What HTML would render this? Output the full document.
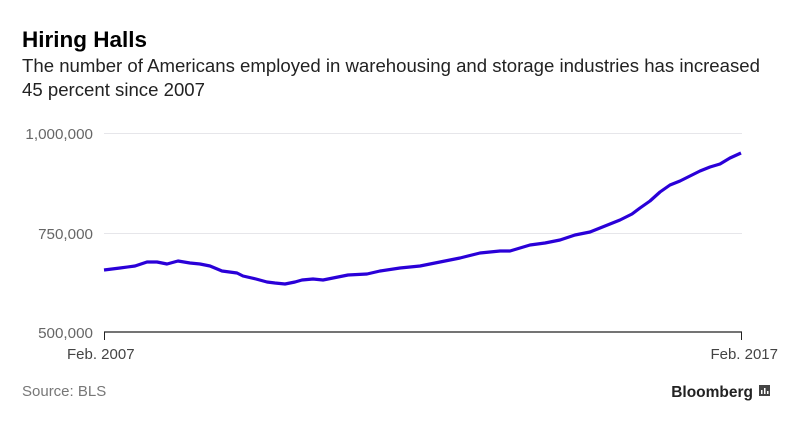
<!DOCTYPE html>
<html><head><style>
body{margin:0;background:#fff;width:800px;height:423px;overflow:hidden;font-family:"Liberation Sans",Arial,sans-serif}
</style></head><body>
<svg width="800" height="423" xmlns="http://www.w3.org/2000/svg" font-family="Liberation Sans, Arial, sans-serif">
<text x="22" y="47" font-size="22.5" font-weight="bold" fill="#000">Hiring Halls</text>
<text x="22" y="72" font-size="18.6" fill="#222">The number of Americans employed in warehousing and storage industries has increased</text>
<text x="22" y="96" font-size="18.6" fill="#222">45 percent since 2007</text>
<line x1="104" y1="133.5" x2="742" y2="133.5" stroke="#e6e6ea" stroke-width="1"/>
<line x1="104" y1="233.5" x2="742" y2="233.5" stroke="#e6e6ea" stroke-width="1"/>
<text x="93" y="139" font-size="15.2" fill="#666" text-anchor="end">1,000,000</text>
<text x="93" y="239" font-size="15.2" fill="#666" text-anchor="end">750,000</text>
<text x="93" y="338" font-size="15.2" fill="#666" text-anchor="end">500,000</text>
<line x1="104" y1="332" x2="742" y2="332" stroke="#222" stroke-width="1.3"/>
<line x1="104.5" y1="332" x2="104.5" y2="340" stroke="#222" stroke-width="1"/>
<line x1="741.5" y1="332" x2="741.5" y2="340" stroke="#222" stroke-width="1"/>
<text x="67" y="359" font-size="15" fill="#444">Feb. 2007</text>
<text x="778" y="359" font-size="15" fill="#444" text-anchor="end">Feb. 2017</text>
<polyline fill="none" stroke="#2a00d8" stroke-width="3.2" stroke-linejoin="round" points="104,270 120,268 135,266 147,262 157,262 167,264 178,261 190,263 200,264 210,266 222,271 237,273 243,276 256,279 267,282 275,283 285,284 295,282 302,280 313,279 323,280 348,275 367,274 380,271 400,268 420,266 440,262 460,258 480,253 500,251 510,251 520,248 530,245 545,243 560,240 575,235 590,232 605,226 620,220 632,214 640,208 650,201 660,192 670,185 680,181 690,176 700,171 710,167 720,164 730,158 741,153"/>
<text x="22" y="396" font-size="15" fill="#777">Source: BLS</text>
<text x="753" y="397" font-size="15.5" font-weight="bold" fill="#222" text-anchor="end">Bloomberg</text>
<rect x="759" y="385" width="11" height="11" fill="#444"/>
<rect x="761" y="390" width="1.5" height="4" fill="#fff"/><rect x="764" y="388" width="1.5" height="6" fill="#fff"/><rect x="767" y="391" width="1.5" height="3" fill="#fff"/>
</svg>
</body></html>
